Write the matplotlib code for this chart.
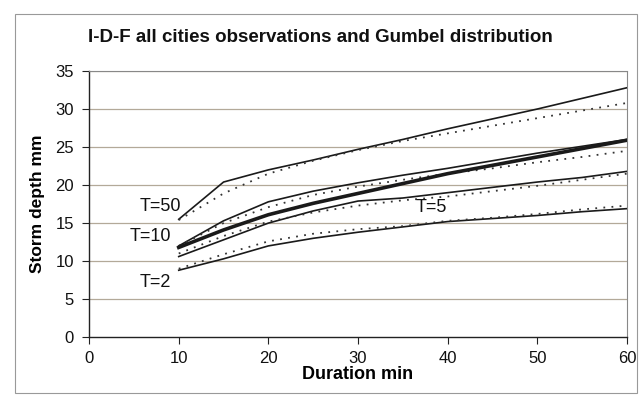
import matplotlib
matplotlib.use("Agg")
import matplotlib.pyplot as plt
from matplotlib.patches import Rectangle

plt.rcParams['font.family'] = ['Liberation Sans', 'DejaVu Sans']

# durations (min)
duration = [10, 15, 20, 25, 30, 35, 40, 45, 50, 55, 60]

# observed storm depths (solid lines), mm
obs_t50 = [15.5, 20.4, 22.0, 23.3, 24.7, 26.0, 27.4, 28.7, 30.0, 31.4, 32.8]
obs_t10 = [12.0, 15.3, 17.8, 19.2, 20.3, 21.3, 22.2, 23.2, 24.2, 25.1, 26.0]
obs_t5 = [10.6, 12.8, 15.0, 16.6, 17.9, 18.3, 19.0, 19.7, 20.4, 21.0, 21.8]
obs_t2 = [8.8, 10.3, 12.0, 13.0, 13.8, 14.5, 15.2, 15.6, 16.0, 16.5, 16.9]

# thick line (all cities average)
mean_line = [11.8, 14.1, 16.1, 17.6, 18.9, 20.2, 21.5, 22.6, 23.7, 24.8, 25.9]

# Gumbel distribution (dotted lines), mm
gum_t50 = [15.4, 18.9, 21.5, 23.2, 24.6, 25.8, 26.8, 27.8, 28.8, 29.8, 30.8]
gum_t10 = [12.0, 15.0, 17.1, 18.7, 19.8, 20.7, 21.5, 22.2, 23.0, 23.7, 24.5]
gum_t5 = [11.0, 13.3, 15.2, 16.4, 17.3, 18.0, 18.5, 19.2, 19.9, 20.7, 21.5]
gum_t2 = [9.0, 10.9, 12.6, 13.6, 14.2, 14.6, 15.3, 15.7, 16.2, 16.8, 17.3]

# curve labels: text, x, y
label_text = ["T=50", "T=10", "T=5", "T=2"]
label_x = [7.9, 6.8, 38.2, 7.4]
label_y = [17.2, 13.2, 17.0, 7.2]

fig = plt.figure(figsize=(6.41, 3.99), dpi=100)
ax = fig.add_axes([0.139, 0.155, 0.839, 0.667])

grid_col = '#b3a999'
for v in range(5, 36, 5):
    ax.axhline(v, color=grid_col, lw=0.9, zorder=1)

for obs in [obs_t50, obs_t10, obs_t5, obs_t2]:
    ax.plot(duration, obs, color='#1a1a1a', lw=1.2, zorder=3)
for gum in [gum_t50, gum_t10, gum_t5, gum_t2]:
    ax.plot(duration, gum, color='#333333', lw=1.3, linestyle=(0, (1, 3.5)), zorder=3)
ax.plot(duration, mean_line, color='#1a1a1a', lw=2.6, zorder=4)

for t, x, y in zip(label_text, label_x, label_y):
    ax.text(x, y, t, fontsize=13, ha='center', va='center', color='#111111')

ax.set_xlim(0, 60)
ax.set_ylim(0, 35)
ax.set_xticks(range(0, 61, 10))
ax.set_yticks(range(0, 36, 5))
ax.tick_params(axis='both', labelsize=12, direction='out', length=5, width=0.8,
               color='#222222', labelcolor='#111111')
ax.tick_params(axis='y', pad=6)
ax.tick_params(axis='x', pad=5)

for side in ['left', 'bottom']:
    ax.spines[side].set_color('#222222')
    ax.spines[side].set_linewidth(1.0)
for side in ['top', 'right']:
    ax.spines[side].set_color('#888888')
    ax.spines[side].set_linewidth(0.8)
    ax.spines[side].set_linestyle((0, (2, 1)))

ax.set_xlabel("Duration min", fontsize=13, fontweight='bold', labelpad=0)
ax.set_ylabel("Storm depth mm", fontsize=12.5, fontweight='bold', labelpad=7)

fig.text(0.5, 0.905, "I-D-F all cities observations and Gumbel distribution",
         ha='center', va='center', fontsize=13.5, fontweight='bold', color='#111111')

# chart area border
fig.patches.append(Rectangle((0.024, 0.015), 0.97, 0.95, transform=fig.transFigure,
                             fill=False, edgecolor='#999999', lw=0.8))

fig.savefig("out.png", dpi=100)
